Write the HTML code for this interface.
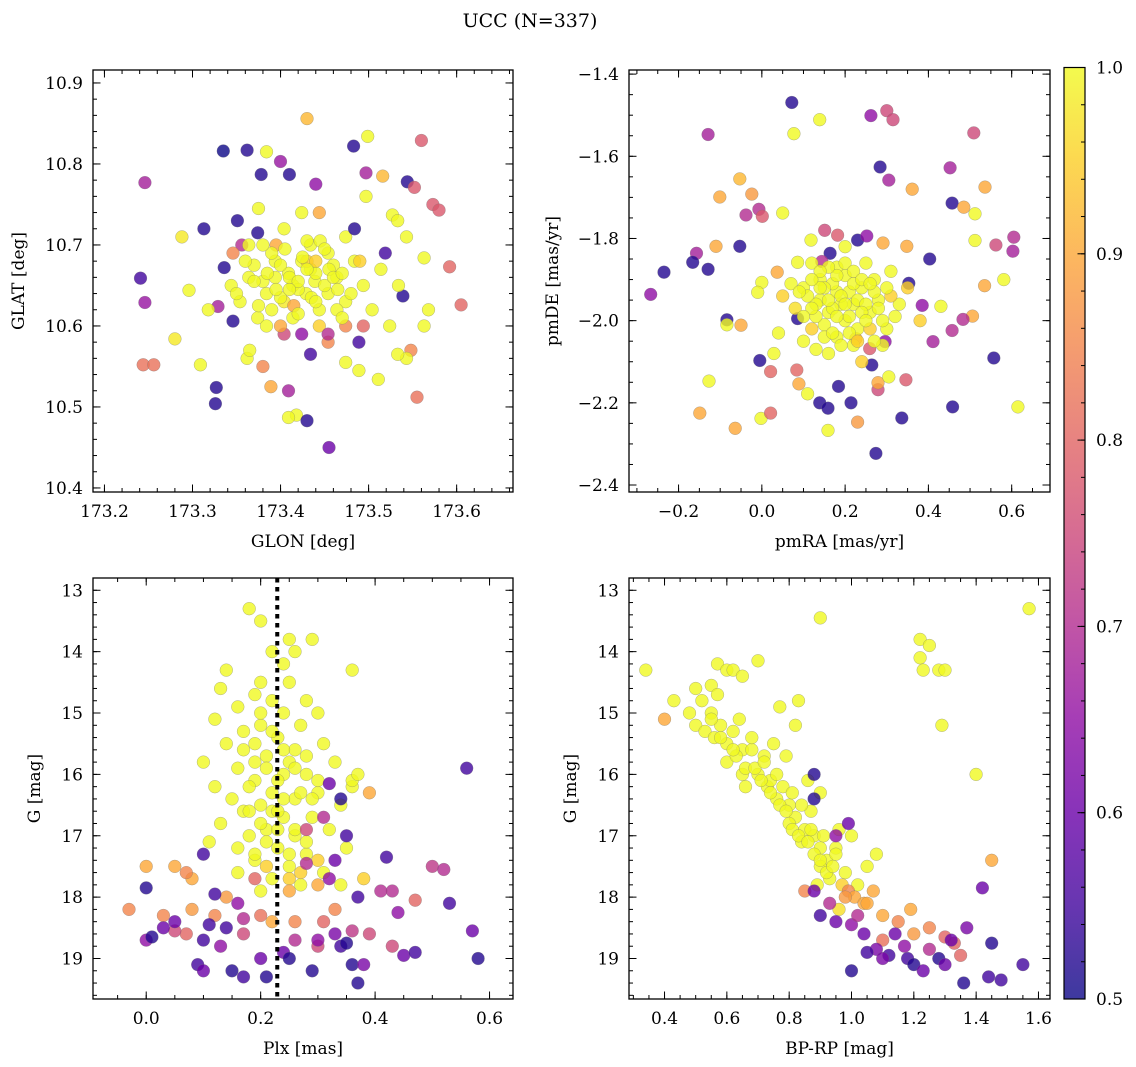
<!DOCTYPE html>
<html><head><meta charset="utf-8">
<style>
html,body{margin:0;padding:0;background:#fff;}
svg{display:block;font-family:"DejaVu Serif","Liberation Serif",serif;}
</style></head>
<body>
<svg id="fig" width="1136" height="1067" viewBox="0 0 1136 1067" xmlns="http://www.w3.org/2000/svg">
<text x="530" y="27" font-size="19" text-anchor="middle">UCC (N=337)</text>
<defs>
<linearGradient id="cbgrad" x1="0" y1="1" x2="0" y2="0"></linearGradient>
</defs>
</svg>
<script>
// ---------- Panel 1: GLON vs GLAT ----------
const glon = [173.241,173.246,173.246,173.244,173.256,173.335,173.362,173.384,173.378,173.41,
173.40,173.43,173.483,173.499,173.56,173.497,173.544,173.552,173.573,173.592,
173.605,173.555,173.327,173.326,173.409,173.418,173.43,173.455,173.28,173.309,
173.288,173.313,173.44,173.516,173.497,173.527,173.543,173.533,173.58,173.563,
173.563,173.548,173.543,173.533,173.568,173.539,173.511,173.489,173.38,173.389,
173.409,173.362,173.329,173.336,173.296,173.318,173.365,173.434,173.454,173.424,
173.474,173.489,173.474,173.346,173.351,173.356,173.346,173.375,173.395,
173.394,173.414,173.434,173.454,173.424,173.404,173.444,173.464,173.384,173.374,
173.434,173.454,173.414,173.474,173.494,173.484,173.364,173.354,173.394,173.429,
173.439,173.409,173.444,173.464,173.384,173.504,173.514,173.474,173.404,173.364,
173.344,173.424,173.444,173.484,173.374,173.454,173.404,173.524,173.534,173.519,173.494,
173.37,173.38,173.39,173.40,173.41,173.42,173.43,173.44,173.45,173.46,
173.375,173.385,173.395,173.405,173.415,173.425,173.435,173.445,173.455,173.465,
173.38,173.40,173.42,173.44,173.46,173.39,173.41,173.43,173.45,173.47,
173.36,173.48,173.35,173.49,173.37,173.47,173.40,173.42,173.44,173.43];
const glat = [10.659,10.777,10.629,10.552,10.552,10.816,10.817,10.815,10.787,10.787,
10.803,10.856,10.822,10.834,10.829,10.789,10.778,10.771,10.75,10.673,
10.626,10.512,10.524,10.504,10.52,10.49,10.483,10.45,10.584,10.552,
10.71,10.72,10.775,10.785,10.76,10.737,10.71,10.73,10.743,10.684,
10.6,10.57,10.56,10.565,10.62,10.637,10.534,10.545,10.55,10.525,
10.487,10.56,10.624,10.672,10.644,10.62,10.57,10.565,10.58,10.59,
10.555,10.58,10.6,10.606,10.73,10.70,10.69,10.745,10.7,
10.66,10.65,10.67,10.64,10.68,10.63,10.62,10.66,10.64,10.61,
10.70,10.69,10.61,10.63,10.65,10.68,10.66,10.63,10.68,10.64,
10.655,10.665,10.60,10.62,10.60,10.62,10.67,10.71,10.72,10.70,
10.65,10.74,10.74,10.72,10.715,10.59,10.59,10.60,10.65,10.69,10.60,
10.675,10.655,10.69,10.635,10.66,10.645,10.68,10.665,10.65,10.675,
10.625,10.665,10.645,10.695,10.625,10.685,10.635,10.705,10.67,10.645,
10.70,10.675,10.655,10.68,10.66,10.62,10.645,10.67,10.695,10.665,
10.68,10.64,10.64,10.68,10.655,10.61,10.60,10.615,10.63,10.705];
const prob1 = [.55,.68,.66,.82,.82,.5,.52,1,.52,.52,
.66,.92,.52,1,.78,.68,.52,.78,.78,.8,
.8,.82,.52,.52,.68,1,.52,.6,.98,1,
.98,.52,.65,.92,1,1,1,1,.78,1,
1,.85,1,1,1,.52,1,1,.85,.9,
1,1,.68,.52,1,1,1,.55,.85,.65,
1,.55,.85,.52,.52,.7,.85,1,.9,
1,1,1,1,1,.98,1,1,1,1,
1,1,1,1,1,1,1,1,1,1,
1,1,.95,1,1,1,1,1,1,1,
1,1,.9,.52,.52,.7,.75,1,1,.55,.8,
1,1,1,1,1,1,.95,1,1,1,
1,1,1,1,.9,1,1,1,1,1,
1,1,1,.95,1,1,1,1,1,1,
1,1,1,.95,1,1,.9,1,1,1];
const p1XTicks = [173.2,173.3,173.4,173.5,173.6];
const p1YTicks = [10.4,10.5,10.6,10.7,10.8,10.9];

// ---------- Panel 2: pmRA vs pmDE ----------
const pmra = [-0.235,-0.267,-0.129,0.072,0.077,0.139,0.262,0.3,0.315,0.509,
0.284,0.305,0.452,0.457,0.536,0.485,-0.053,-0.101,-0.024,-0.007,
-0.038,0.001,0.05,0.361,0.605,0.562,0.603,0.512,0.512,-0.157,
-0.166,-0.129,-0.053,-0.11,-0.084,-0.084,-0.05,-0.005,0.021,0.084,
-0.002,-0.064,-0.149,-0.127,0.021,0.089,0.11,0.139,0.159,0.184,
0.23,0.159,0.214,0.274,0.336,0.346,0.279,0.279,0.458,0.615,
0.411,0.557,0.506,0.535,0.581,0.457,0.483,0.43,0.385,0.353,
0.403,0.348,0.23,0.164,0.144,0.118,0.151,0.182,0.252,0.291,
0.086,0.0,0.086,0.037,-0.01,0.029,0.296,0.259,0.264,0.305,0.226,
0.10,0.14,0.18,0.22,0.16,0.20,0.12,0.24,0.26,0.18,
0.14,0.20,0.28,0.08,0.22,0.16,0.30,0.10,0.24,0.19,
0.15,0.21,0.17,0.23,0.27,0.13,0.05,0.33,0.29,0.18,
0.20,0.25,0.12,0.35,0.04,0.38,0.07,0.31,
0.11,0.13,0.15,0.17,0.19,0.21,0.23,0.25,0.27,0.29,
0.12,0.14,0.16,0.18,0.20,0.22,0.24,0.26,0.28,0.10,
0.15,0.17,0.19,0.21,0.23,0.25,0.13,0.27,0.09,0.31,
0.18,0.20,0.22,0.16,0.24,0.14,0.26,0.12,0.30,0.32];
const pmde = [-1.882,-1.936,-1.547,-1.469,-1.545,-1.511,-1.501,-1.489,-1.511,-1.543,
-1.626,-1.658,-1.628,-1.714,-1.675,-1.724,-1.655,-1.699,-1.692,-1.729,
-1.743,-1.746,-1.738,-1.68,-1.797,-1.816,-1.831,-1.74,-1.805,-1.836,
-1.858,-1.875,-1.819,-1.819,-1.998,-2.01,-2.011,-2.097,-2.124,-2.12,
-2.238,-2.262,-2.225,-2.147,-2.225,-2.154,-2.178,-2.2,-2.213,-2.16,
-2.247,-2.267,-2.2,-2.323,-2.237,-2.144,-2.168,-2.151,-2.21,-2.21,
-2.051,-2.091,-1.989,-1.915,-1.9,-2.024,-1.997,-1.965,-1.963,-1.909,
-1.85,-1.819,-1.804,-1.836,-1.856,-1.804,-1.78,-1.792,-1.794,-1.811,
-1.995,-1.907,-1.858,-1.882,-1.931,-2.08,-2.051,-2.068,-2.108,-2.137,-2.044,
-1.92,-1.95,-1.93,-1.96,-1.98,-2.0,-2.02,-1.92,-1.98,-2.04,
-1.90,-1.89,-1.95,-1.97,-2.06,-2.08,-2.02,-2.05,-2.1,-1.96,
-2.01,-1.93,-1.91,-2.02,-1.9,-1.96,-1.94,-1.96,-2.06,-1.87,
-1.82,-1.86,-1.86,-1.92,-2.03,-2.0,-1.91,-1.88,
-1.94,-1.99,-1.92,-1.97,-1.94,-1.99,-1.95,-1.96,-1.93,-2.0,
-1.97,-1.92,-1.95,-1.99,-1.96,-1.91,-1.98,-2.02,-1.97,-1.99,
-2.04,-2.03,-2.06,-2.03,-2.05,-2.0,-2.07,-2.05,-1.93,-1.94,
-1.89,-1.86,-1.88,-1.87,-1.90,-1.88,-1.91,-1.90,-1.92,-1.99];
const prob2 = [.52,.65,.68,.52,1,1,.65,.75,.75,.75,
.52,.68,.68,.52,.9,.9,.92,.9,.88,.7,
.7,.78,1,.9,.7,.75,.68,1,1,.68,
.52,.52,.52,.9,.52,1,.9,.52,.8,.8,
1,.9,.9,1,.8,.9,1,.52,.52,.52,
.88,1,.52,.52,.52,.78,.75,.9,.52,1,
.68,.52,.9,.9,1,.7,.7,1,.65,.52,
.52,.9,.52,.52,.7,1,.75,.78,.65,.9,
.52,1,1,.9,1,1,.65,.78,.52,1,.9,
1,1,1,1,1,1,.95,1,1,1,
1,1,1,.97,1,1,1,1,.95,1,
1,1,1,1,1,1,.95,1,1,1,
1,1,1,.95,1,.95,1,1,
1,1,1,1,1,1,1,1,1,1,
1,1,1,1,1,1,1,.95,1,1,
1,1,1,1,.95,1,1,1,1,.95,
1,1,1,1,1,1,1,1,1,1];
const p2XTicks = [-0.2,0.0,0.2,0.4,0.6];
const p2YTicks = [-2.4,-2.2,-2.0,-1.8,-1.6,-1.4];

// ---------- Panel 3: Plx vs G ----------
const plx = [0.18,0.2,0.29,0.25,0.26,0.22,0.24,0.36,0.14,0.2,
0.25,0.13,0.19,0.22,0.28,0.16,0.24,0.3,0.12,0.2,
0.27,0.17,0.23,0.14,0.31,0.19,0.26,0.1,0.21,0.33,
0.16,0.24,0.28,0.19,0.12,0.36,0.22,0.3,0.26,0.15,
0.2,0.34,0.17,0.24,0.29,0.13,0.21,0.32,0.26,0.18,
0.11,0.23,0.35,0.28,0.19,0.25,0.31,0.16,0.22,0.27,
0.34,0.2,0.38,0.39,0.36,0.37,
0.17,0.19,0.21,0.23,0.25,0.27,0.29,0.18,0.2,0.22,
0.24,0.26,0.28,0.3,0.16,0.19,0.21,0.23,0.25,0.27,
0.2,0.22,0.24,0.26,0.18,0.28,0.23,0.21,0.25,0.3,
0.0,0.05,0.08,0.1,0.14,0.12,0.25,0.3,0.33,0.31,
0.3,0.26,0.22,0.2,0.08,0.03,-0.03,0.07,0.17,0.05,
0.36,0.39,0.42,0.5,0.52,0.56,0.43,0.47,0.44,0.53,
0.58,0.57,0.45,0.43,0.47,0.41,
0.0,0.01,0.0,0.03,
0.05,0.1,0.09,0.1,0.13,0.14,0.15,0.17,0.2,0.21,
0.24,0.25,0.29,0.3,0.33,0.34,0.35,0.36,0.37,0.38,
0.37,0.33,0.26,0.17,0.11,0.35,0.34,0.32,0.28,0.31,
0.07,0.16,0.12,0.19,0.28,0.32];
const gmag3 = [13.3,13.5,13.8,13.8,14.0,14.0,14.2,14.3,14.3,14.5,
14.5,14.6,14.7,14.8,14.8,14.9,15.0,15.0,15.1,15.2,
15.2,15.3,15.4,15.5,15.5,15.5,15.6,15.8,15.7,15.8,
15.9,16.0,16.0,16.1,16.2,16.2,16.3,16.3,16.4,16.4,
16.5,16.5,16.6,16.7,16.7,16.8,16.9,16.9,17.0,17.0,
17.1,17.2,17.2,17.3,17.4,17.5,17.6,17.6,17.7,17.8,
17.8,17.9,17.7,16.3,16.1,16.0,
15.6,15.8,15.9,16.1,15.8,16.3,16.4,16.6,16.8,16.6,
16.4,16.9,17.1,17.4,17.2,17.3,17.1,16.9,17.3,17.6,
15.0,15.3,15.6,15.9,16.2,15.7,16.6,17.5,17.7,16.1,
17.5,17.5,17.7,17.3,18.0,18.3,17.9,17.8,18.2,18.4,
18.8,18.4,18.4,18.3,18.2,18.3,18.2,18.6,18.6,18.55,
18.55,18.6,17.35,17.5,17.55,15.9,17.9,18.05,18.25,18.1,
19.0,18.55,18.95,18.8,18.9,17.9,
18.7,18.65,17.85,18.5,
18.4,18.7,19.1,19.2,18.8,18.5,19.2,19.3,19.0,19.3,
18.9,19.0,19.2,18.7,18.6,18.8,18.75,19.1,19.4,19.1,
18.0,17.4,18.7,18.35,18.45,17.0,16.4,16.15,16.9,16.7,
17.6,18.1,17.95,17.7,17.45,17.7];
const prob3 = [1,1,1,1,1,1,1,1,1,1,
1,1,1,1,1,1,1,1,1,1,
1,1,1,1,1,1,1,1,1,1,
1,1,1,1,1,1,1,1,1,1,
1,1,1,1,1,1,1,1,1,1,
1,1,1,1,1,1,1,1,1,1,
1,1,.95,.9,1,1,
1,1,1,1,1,1,1,1,1,1,
1,1,1,.95,1,1,1,1,1,.95,
1,1,1,1,1,1,1,.95,.95,1,
.9,.9,.9,.55,.88,.85,.9,.9,.85,.8,
.75,.85,.9,.82,.88,.85,.85,.8,.75,.75,
.72,.75,.55,.72,.7,.55,.7,.8,.65,.55,
.52,.6,.6,.75,.55,.7,
.65,.52,.52,.6,
.6,.55,.55,.6,.65,.55,.52,.55,.6,.52,
.6,.52,.52,.65,.62,.55,.52,.52,.52,.62,
.55,.6,.7,.7,.55,.55,.52,.6,.75,.7,
.85,.65,.55,.8,.7,.65];
const p3XTicks = [0.0,0.2,0.4,0.6];
const p3YTicks = [13,14,15,16,17,18,19];
const plxMedian = [0.229];

// ---------- Panel 4: BP-RP vs G ----------
const bprp = [0.34,0.5,0.52,0.55,0.57,0.6,0.62,0.65,0.7,0.48,
0.5,0.53,0.55,0.58,0.6,0.62,0.65,0.68,0.72,0.75,
0.6,0.65,0.7,0.73,0.76,0.78,0.8,0.66,0.82,0.85,
0.8,0.88,0.9,0.84,0.92,0.95,0.98,0.9,1.02,1.05,
0.93,0.87,0.9,0.86,0.79,0.82,0.77,0.83,0.9,1.22,
1.25,1.22,1.23,1.28,1.3,1.29,1.4,1.57,0.43,0.56,
0.63,0.74,0.81,0.96,1.0,1.08,0.89,0.96,
0.55,0.58,0.62,0.66,0.69,0.71,0.74,0.77,0.79,0.81,
0.83,0.86,0.88,0.9,0.92,0.94,0.97,0.99,1.01,1.04,
0.57,0.64,0.68,0.72,0.76,0.84,0.87,0.91,0.95,1.07,
0.4,1.19,1.2,1.25,1.15,1.1,1.05,0.98,1.3,1.33,1.35,1.45,1.1,0.85,
0.88,0.88,0.99,0.95,0.88,0.9,0.95,1.0,1.04,1.08,
1.12,1.18,1.2,1.23,1.28,1.32,1.36,1.44,1.48,1.55,
1.45,1.42,1.37,1.0,1.05,1.14,1.17,1.25,1.02,0.93,1.1,1.3];
const gmag4 = [14.3,14.6,14.8,14.55,14.2,14.3,14.3,14.4,14.15,15.0,
15.2,15.3,15.0,15.2,15.5,15.3,15.6,15.6,15.7,15.5,
15.8,16.0,16.0,16.2,16.4,16.2,16.5,16.2,16.7,16.9,
16.8,17.0,17.2,17.1,17.4,17.2,17.6,17.5,17.8,17.5,
17.7,16.6,16.3,16.1,15.7,15.2,14.9,14.8,13.45,13.8,
13.9,14.1,14.3,14.3,14.3,15.2,16.0,13.3,14.8,15.4,
15.7,16.1,16.3,16.9,17.0,17.3,17.8,18.2,
15.1,15.4,15.6,15.9,15.9,16.1,16.3,16.5,16.6,16.9,
17.0,17.1,17.3,17.4,17.6,17.5,17.8,17.9,18.0,18.1,
14.7,15.1,15.4,15.8,16.0,16.5,16.9,17.0,17.3,17.9,
15.1,18.2,18.6,18.5,18.4,18.3,18.1,18.0,18.65,18.75,18.95,17.4,18.7,17.9,
16.0,16.4,16.8,17.0,17.9,18.3,18.4,18.45,18.6,18.85,
18.95,19.0,19.1,19.2,19.0,18.7,19.4,19.3,19.35,19.1,
18.75,17.85,18.5,19.2,18.9,18.6,18.8,18.85,18.3,18.1,19.0,19.1];
const prob4 = [1,1,1,1,1,1,1,1,1,1,
1,1,1,1,1,1,1,1,1,1,
1,1,1,1,1,1,1,1,1,1,
1,1,1,1,1,1,1,1,1,1,
1,1,1,1,1,1,1,1,1,1,
1,1,1,1,1,1,1,1,1,1,
1,1,1,1,1,1,1,.97,
1,1,1,1,1,1,1,1,1,1,
1,1,1,1,1,1,.95,.85,.9,.9,
1,1,1,1,1,1,1,1,1,.9,
.9,.9,.88,.85,.85,.9,.9,.88,.8,.8,.8,.9,.82,.85,
.52,.52,.6,.65,.6,.55,.6,.65,.6,.62,
.55,.55,.52,.6,.52,.6,.52,.55,.55,.55,
.52,.6,.62,.52,.55,.6,.65,.7,.7,.7,.62,.6];
const p4XTicks = [0.4,0.6,0.8,1.0,1.2,1.4,1.6];
const p4YTicks = [13,14,15,16,17,18,19];

const cbTicks = [0.5,0.6,0.7,0.8,0.9,1.0];

// ---------- helpers ----------
const NS = "http://www.w3.org/2000/svg";
const svg = document.getElementById('fig');
const plasma = ["#0d0887","#41049d","#6a00a8","#8f0da4","#b12a90","#cc4778","#e16462","#f2844b","#fca636","#fcce25","#f0f921"];
function hex(h){return [parseInt(h.slice(1,3),16),parseInt(h.slice(3,5),16),parseInt(h.slice(5,7),16)];}
function cmap(p){
  let t=Math.max(0,Math.min(1,(p-0.5)/0.5))*10;
  let i=Math.min(9,Math.floor(t)),f=t-i;
  const a=hex(plasma[i]),b=hex(plasma[i+1]);
  return 'rgb('+a.map((v,k)=>Math.round(v+(b[k]-v)*f)).join(',')+')';
}
function mk(tag,attrs,parent){const e=document.createElementNS(NS,tag);for(const k in attrs)e.setAttribute(k,attrs[k]);(parent||svg).appendChild(e);return e;}
function fmt(v,d){return (v<0?'\u2212':'')+Math.abs(v).toFixed(d);}

function panel(cfg){
  const g=mk('g',{});
  
  
  const {L,T,R,B}=cfg.box;
  const sx=v=>L+(v-cfg.xd[0])/(cfg.xd[1]-cfg.xd[0])*(R-L);
  const sy=cfg.inv? (v=>T+(v-cfg.yd[0])/(cfg.yd[1]-cfg.yd[0])*(B-T)) : (v=>B-(v-cfg.yd[0])/(cfg.yd[1]-cfg.yd[0])*(B-T));
  const n=Math.min(cfg.xs.length,cfg.ys.length,cfg.ps.length);
  const pts=mk('g',{},g);
  
  
  for(let i=0;i<n;i++){
    const c=mk('circle',{cx:sx(cfg.xs[i]).toFixed(1),cy:sy(cfg.ys[i]).toFixed(1),r:6.4,fill:cmap(cfg.ps[i]),'fill-opacity':0.8,stroke:'#777','stroke-width':0.4,'stroke-opacity':0.7},pts);
    
    
  }
  if(cfg.vline){
    const l=mk('line',{x1:sx(cfg.vline[0]),x2:sx(cfg.vline[0]),y1:T,y2:B,stroke:'#000','stroke-width':4,'stroke-dasharray':'4.5,4.5'},g);
    
    
  }
  const fr=mk('rect',{x:L,y:T,width:R-L,height:B-T,fill:'none',stroke:'#000','stroke-width':1.3},g);
  
  
  const tk=mk('g',{stroke:'#000','stroke-width':1},g);
  
  
  const eps=1e-9;
  for(let v=Math.ceil(cfg.xd[0]/cfg.xm-eps)*cfg.xm; v<=cfg.xd[1]+eps; v+=cfg.xm){
    const x=sx(v); mk('line',{x1:x,x2:x,y1:B,y2:B-4},tk); mk('line',{x1:x,x2:x,y1:T,y2:T+4},tk);
  }
  const ylo=Math.min(cfg.yd[0],cfg.yd[1]), yhi=Math.max(cfg.yd[0],cfg.yd[1]);
  for(let v=Math.ceil(ylo/cfg.ym-eps)*cfg.ym; v<=yhi+eps; v+=cfg.ym){
    const y=sy(v); mk('line',{x1:L,x2:L+4,y1:y,y2:y},tk); mk('line',{x1:R,x2:R-4,y1:y,y2:y},tk);
  }
  cfg.xt.forEach(v=>{
    const x=sx(v); mk('line',{x1:x,x2:x,y1:B,y2:B-7.5},tk); mk('line',{x1:x,x2:x,y1:T,y2:T+7.5},tk);
    const t=mk('text',{x:x,y:B+25,'font-size':17,'text-anchor':'middle'},g); t.textContent=fmt(v,cfg.xdig);
    
    
  });
  cfg.yt.forEach(v=>{
    const y=sy(v); mk('line',{x1:L,x2:L+7.5,y1:y,y2:y},tk); mk('line',{x1:R,x2:R-7.5,y1:y,y2:y},tk);
    const t=mk('text',{x:L-10,y:y+6,'font-size':17,'text-anchor':'end'},g); t.textContent=fmt(v,cfg.ydig);
    
    
  });
  const xl=mk('text',{x:(L+R)/2,y:B+55,'font-size':17,'text-anchor':'middle'},g); xl.textContent=cfg.xlab;
  
  
  const yx=cfg.ylx, yc=(T+B)/2;
  const yl=mk('text',{x:yx,y:yc,'font-size':17,'text-anchor':'middle',transform:'rotate(-90 '+yx+' '+yc+')'},g); yl.textContent=cfg.ylab;
  
  
}

panel({name:'glon-glat-panel',box:{L:93,T:70,R:513,B:492},xd:[173.187,173.664],yd:[10.395,10.916],xs:glon,ys:glat,ps:prob1,xt:p1XTicks,yt:p1YTicks,xm:0.02,ym:0.02,xdig:1,ydig:1,xlab:'GLON [deg]',ylab:'GLAT [deg]',ylx:24});
panel({name:'pm-panel',box:{L:629,T:70,R:1050,B:492},xd:[-0.319,0.692],yd:[-2.417,-1.39],xs:pmra,ys:pmde,ps:prob2,xt:p2XTicks,yt:p2YTicks,xm:0.05,ym:0.05,xdig:1,ydig:1,xlab:'pmRA [mas/yr]',ylab:'pmDE [mas/yr]',ylx:558});
panel({name:'plx-g-panel',box:{L:93,T:578,R:513,B:999},xd:[-0.093,0.641],yd:[12.8,19.66],inv:true,xs:plx,ys:gmag3,ps:prob3,xt:p3XTicks,yt:p3YTicks,xm:0.05,ym:0.2,xdig:1,ydig:0,xlab:'Plx [mas]',ylab:'G [mag]',ylx:40,vline:plxMedian});
panel({name:'cmd-panel',box:{L:629,T:578,R:1050,B:999},xd:[0.286,1.637],yd:[12.8,19.66],inv:true,xs:bprp,ys:gmag4,ps:prob4,xt:p4XTicks,yt:p4YTicks,xm:0.05,ym:0.2,xdig:1,ydig:0,xlab:'BP-RP [mag]',ylab:'G [mag]',ylx:576});

// ---------- colorbar ----------
const grad=document.getElementById('cbgrad');
plasma.forEach((c,i)=>{mk('stop',{offset:(i/10).toFixed(2),'stop-color':c,'stop-opacity':0.8},grad);});
const cb=mk('g',{});


const CL=1064,CR=1085,CT=67.5,CB=999;
mk('rect',{x:CL,y:CT,width:CR-CL,height:CB-CT,fill:'url(#cbgrad)',stroke:'#000','stroke-width':1.2},cb);
const cy=v=>CB-(v-0.5)/0.5*(CB-CT);
for(let v=0.5;v<=1.0001;v+=0.02){mk('line',{x1:CR,x2:CR-4,y1:cy(v),y2:cy(v),stroke:'#000','stroke-width':1},cb);}
cbTicks.forEach(v=>{
  mk('line',{x1:CR,x2:CR-7.5,y1:cy(v),y2:cy(v),stroke:'#000','stroke-width':1},cb);
  const t=mk('text',{x:CR+11,y:cy(v)+6,'font-size':17},cb); t.textContent=v.toFixed(1);
  
  
});
</script>
</body></html>
